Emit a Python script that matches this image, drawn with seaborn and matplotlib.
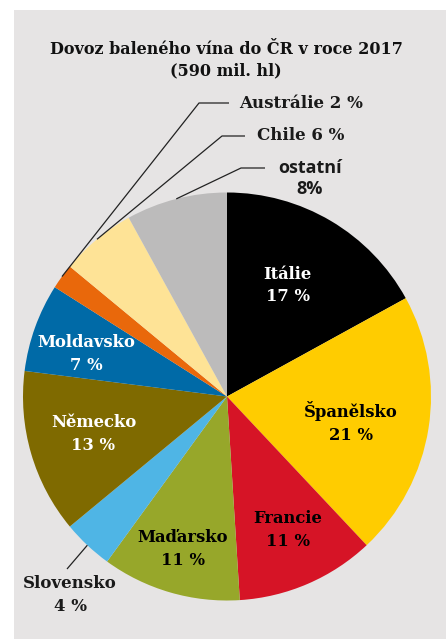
import numpy as np
import matplotlib
matplotlib.use("Agg")
import matplotlib.pyplot as plt
import seaborn as sns
from matplotlib.patches import Rectangle

# data (clockwise from 12 o'clock)
countries = ['Itálie', 'Španělsko', 'Francie', 'Maďarsko', 'Slovensko',
             'Německo', 'Moldavsko', 'Austrálie', 'Chile', 'ostatní']
shares = [17, 21, 11, 11, 4, 13, 7, 2, 6, 8]
slice_colors = ['#000000', '#ffcc00', '#d61426', '#97a72a', '#4fb5e5',
                '#7f6a00', '#006aa7', '#e9680b', '#fee396', '#bcbbbb']
title = 'Dovoz baleného vína do ČR v roce 2017\n(590 mil. hl)'

W, H = 446, 639
CX, CY, R = 227, 396.5, 204  # pie centre / radius in pixels

sns.set_style('white')
serif = 'DejaVu Serif'

fig = plt.figure(figsize=(W / 100, H / 100), dpi=100)
fig.patch.set_facecolor('white')
fig.patches.append(Rectangle((14 / W, 0), 1, (H - 10) / H, transform=fig.transFigure,
                             facecolor='#e6e4e4', edgecolor='none', zorder=-1))

ax = fig.add_axes([(CX - R) / W, (H - CY - R) / H, 2 * R / W, 2 * R / H])
ax.set_facecolor('none')
pal = sns.color_palette(slice_colors)
wedges, _ = ax.pie(shares, colors=pal, startangle=90, counterclock=False,
                   radius=1, wedgeprops=dict(linewidth=0))
ax.set_xlim(-1, 1)
ax.set_ylim(-1, 1)
ax.set_aspect('equal')
ax.axis('off')


def px(x, y):
    return (x - CX) / R, (CY - y) / R


# mid angles of wedges
cum = np.cumsum([0] + shares)
mid = 90 - 3.6 * (cum[:-1] + cum[1:]) / 2

# inside labels: radius fraction, angle tweak, text colour
inside = {'Itálie': (0.62, 2, 'white'), 'Španělsko': (0.62, -3, 'black'),
          'Francie': (0.72, 1, 'black'), 'Maďarsko': (0.78, 0, 'black'),
          'Německo': (0.68, -0.5, 'white'), 'Moldavsko': (0.72, 3, 'white')}
for i, name in enumerate(countries):
    if name in inside:
        rr, da, col = inside[name]
        a = np.radians(mid[i] + da)
        ax.text(rr * np.cos(a), rr * np.sin(a), f'{name}\n{shares[i]} %',
                ha='center', va='center', color=col, fontsize=11.8,
                fontfamily=serif, fontweight='bold', linespacing=1.45)

# outside labels with leader lines
lead = {'Austrálie': [(199, 103), (229, 103)],
        'Chile': [(222, 136), (245, 136)],
        'ostatní': [(241, 168), (265, 168)],
        'Slovensko': [(67, 569)]}
for i, name in enumerate(countries):
    if name in lead:
        a = np.radians(mid[i])
        pts = [(np.cos(a), np.sin(a))] + [px(*p) for p in lead[name]]
        xs, ys = zip(*pts)
        ax.plot(xs, ys, color='#222222', lw=0.9, clip_on=False, solid_capstyle='butt')

ax.text(*px(239, 103), f'Austrálie {shares[7]} %', ha='left', va='center',
        fontsize=12, fontfamily=serif, fontweight='bold', color='#1a1a1a')
ax.text(*px(257, 136), f'Chile {shares[8]} %', ha='left', va='center',
        fontsize=12, fontfamily=serif, fontweight='bold', color='#1a1a1a')
ax.text(*px(310, 178.5), f'ostatní\n{shares[9]}%', ha='center', va='center',
        fontsize=13, fontfamily='Open Sans', fontweight='bold', color='#1a1a1a',
        linespacing=1.15)
ax.text(*px(70, 595), f'Slovensko\n{shares[4]} %', ha='center', va='center',
        fontsize=12, fontfamily=serif, fontweight='bold', color='#1a1a1a',
        linespacing=1.45)

fig.text(226 / W, 1 - 60 / H, title, ha='center', va='center', fontsize=11.5,
         fontfamily=serif, fontweight='bold', color='#111111', linespacing=1.3)

fig.savefig('out.png', dpi=100)
